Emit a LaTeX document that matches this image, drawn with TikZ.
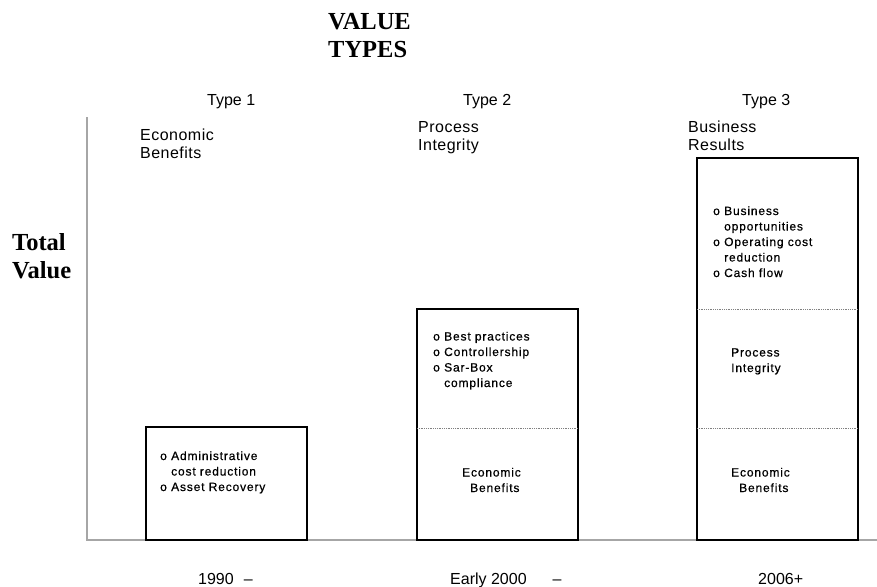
\documentclass[tikz,border=0pt]{standalone}
\usepackage{fontspec}
\setmainfont{Liberation Serif}
\setsansfont{Liberation Sans}
\newfontfamily\boxfont[LetterSpace=7,FakeBold=0.6]{Liberation Sans}
\newfontfamily\lblfont[LetterSpace=3]{Liberation Sans}
\newcommand\bul{\makebox[11pt][l]{o}}
\begin{document}
\begin{tikzpicture}[x=1pt,y=-1pt,
  lbl/.style={font=\sffamily\fontsize{16}{18}\selectfont, inner sep=0pt, anchor=base west, align=left},
  hdr/.style={font=\lblfont\fontsize{16}{18}\selectfont, inner sep=0pt, anchor=base west, align=left},
  ttl/.style={font=\bfseries\fontsize{24.5}{27.5}\selectfont, inner sep=0pt, anchor=base west, align=left},
  boxtxt/.style={font=\boxfont\fontsize{12}{15.5}\selectfont, inner sep=0pt, anchor=base west, align=left},
  bar/.style={draw=black, line width=1.3pt},
  axisline/.style={draw=gray!70, line width=2pt},
  divider/.style={draw=gray, line width=0.8pt, densely dotted}]
\useasboundingbox (0,0) rectangle (877,586);
% axes
\coordinate (ytop) at (87,117);
\coordinate (orig) at (87,540);
\coordinate (xend) at (877,540);
\draw[axisline] (ytop) -- (orig) -- (xend);
% bars
\draw[bar] (146,427) rectangle (307,540);
\draw[bar] (417,309) rectangle (578,540);
\draw[divider] (417,428) -- (578,428);
\draw[bar] (697,158) rectangle (858,540);
\draw[divider] (697,309) -- (858,309);
\draw[divider] (697,428) -- (858,428);
% titles (anchor = baseline of last line)
\node[ttl] (title) at (328,57) {VALUE\\TYPES};
\node[ttl] (total) at (12,278) {Total\\Value};
% type labels
\node[lbl] (ty1) at (207,105) {Type 1};
\node[lbl] (ty2) at (463,105) {Type 2};
\node[lbl] (ty3) at (742,105) {Type 3};
\node[hdr] (h1) at (140,158) {Economic\\Benefits};
\node[hdr] (h2) at (418,150) {Process\\Integrity};
\node[hdr] (h3) at (688,150) {Business\\Results};
% box texts
\node[boxtxt] (t1) at (160,491) {\bul Administrative\\\hspace{11pt}cost reduction\\\bul Asset Recovery};
\node[boxtxt] (t2) at (433,387) {\bul Best practices\\\bul Controllership\\\bul Sar-Box\\\hspace{11pt}compliance};
\node[boxtxt] (e2) at (462,492) {Economic\\\hspace{8pt}Benefits};
\node[boxtxt] (t3) at (713,277) {\bul Business\\\hspace{11pt}opportunities\\\bul Operating cost\\\hspace{11pt}reduction\\\bul Cash flow};
\node[boxtxt] (p3) at (731,372) {Process\\Integrity};
\node[boxtxt] (e3) at (731,492) {Economic\\\hspace{8pt}Benefits};
% time labels
\node[lbl] (d1) at (198,584) {1990\hspace{10pt}–};
\node[lbl] (d2) at (450,584) {Early 2000\hspace{26pt}–};
\node[lbl] (d3) at (758,584) {2006+};
\end{tikzpicture}
\end{document}
